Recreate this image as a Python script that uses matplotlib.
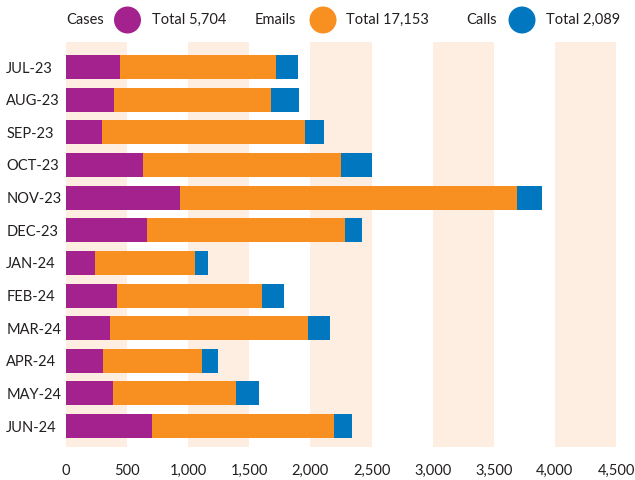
import matplotlib
matplotlib.use("Agg")
import matplotlib.pyplot as plt
from matplotlib.patches import Ellipse

months = ["JUL-23", "AUG-23", "SEP-23", "OCT-23", "NOV-23", "DEC-23",
          "JAN-24", "FEB-24", "MAR-24", "APR-24", "MAY-24", "JUN-24"]
cases = [442, 393, 295, 630, 933, 663, 237, 417, 360, 303, 385, 704]
emails = [1276, 1284, 1661, 1620, 2757, 1620, 818, 1187, 1620, 810, 1006, 1489]
calls = [180, 229, 155, 254, 205, 139, 107, 180, 180, 131, 188, 147]
series_names = ["Cases", "Emails", "Calls"]
series_totals = ["Total 5,704", "Total 17,153", "Total 2,089"]
x_ticks = [0, 500, 1000, 1500, 2000, 2500, 3000, 3500, 4000, 4500]

colors = ["#A4228E", "#F79021", "#0077BF"]
band_color = "#FDEEE1"
text_color = "#231F20"

plt.rcParams['font.family'] = ['Lato', 'DejaVu Sans']

W, H = 635, 480
fig = plt.figure(figsize=(W / 100, H / 100), dpi=100)
ax = fig.add_axes([66 / W, 1 - 447 / H, 550 / W, 405 / H])

# alternating bands
for i in range(0, len(x_ticks) - 1, 2):
    ax.axvspan(x_ticks[i], x_ticks[i + 1], color=band_color, zorder=0, lw=0)

y = list(range(len(months)))
h = 0.735
left2 = [a + b for a, b in zip(cases, emails)]
ax.barh(y, cases, height=h, color=colors[0], zorder=2, lw=0)
ax.barh(y, emails, left=cases, height=h, color=colors[1], zorder=2, lw=0)
ax.barh(y, calls, left=left2, height=h, color=colors[2], zorder=2, lw=0)

ax.set_xlim(0, 4500)
ax.set_ylim(11.64, -0.766)
ax.set_xticks(x_ticks)
ax.set_xticklabels([f"{v:,}" for v in x_ticks], fontsize=10.5, color=text_color)
ax.set_yticks(y)
ax.set_yticklabels(months, fontsize=10.5, color=text_color, ha='left')
ax.tick_params(axis='y', length=0, pad=43)
ax.tick_params(axis='x', length=0, pad=12)
for s in ax.spines.values():
    s.set_visible(False)

# legend
ly = 1 - 20 / H
label_x = [66, 255, 466]
circ_x = [127.5, 323, 522]
total_x = [152, 346, 546]
for k in range(3):
    fig.text(label_x[k] / W, ly, series_names[k], fontsize=10.5, color=text_color,
             ha='left', va='center')
    fig.add_artist(Ellipse((circ_x[k] / W, ly), 27 / W, 27 / H,
                           transform=fig.transFigure, color=colors[k], lw=0))
    fig.text(total_x[k] / W, ly, series_totals[k], fontsize=10.5, color=text_color,
             ha='left', va='center')

fig.savefig("out.png", dpi=100)
